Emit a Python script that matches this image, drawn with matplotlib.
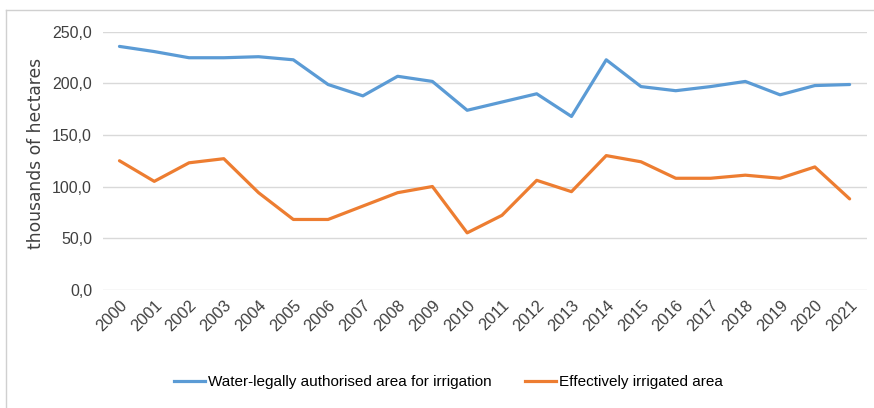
import matplotlib.pyplot as plt
from matplotlib.lines import Line2D

# data (thousands of hectares)
years = [str(y) for y in range(2000, 2022)]
authorised = [236, 231, 225, 225, 226, 223, 199, 188, 207, 202, 174, 182,
              190, 168, 223, 197, 193, 197, 202, 189, 198, 199]
irrigated = [125, 105, 123, 127, 94, 68, 68, 81, 94, 100, 55, 72,
             106, 95, 130, 124, 108, 108, 111, 108, 119, 88]
y_ticks = [0, 50, 100, 150, 200, 250]
y_labels = ["0,0", "50,0", "100,0", "150,0", "200,0", "250,0"]

blue = "#5B9BD5"
orange = "#ED7D31"
narrow = ["Liberation Sans Narrow", "Liberation Sans", "DejaVu Sans"]

fig = plt.figure(figsize=(8.74, 4.08), dpi=100)
ax = fig.add_axes([0.118, 0.2904, 0.874, 0.6312])

x = list(range(len(years)))
ax.plot(x, authorised, color=blue, lw=2.3, solid_capstyle="round")
ax.plot(x, irrigated, color=orange, lw=2.3, solid_capstyle="round")

ax.set_xlim(-0.47, 21.5)
ax.set_ylim(0, 250)
ax.set_yticks(y_ticks)
ax.set_yticklabels(y_labels, family=narrow, fontsize=11.5, color="#404040")
ax.set_xticks(x)
ax.set_xticklabels(years, family=narrow, fontsize=11.8, color="#404040",
                   rotation=45, ha="right", rotation_mode="anchor")
ax.tick_params(length=0, axis="y", pad=8)
ax.tick_params(length=0, axis="x", pad=6)
ax.grid(axis="y", color="#D9D9D9", lw=1)
ax.set_axisbelow(True)
for s in ax.spines.values():
    s.set_visible(False)
ax.set_ylabel("thousands of hectares", fontsize=12.3, color="#404040")
ax.yaxis.set_label_coords(-0.076, 0.53)

handles = [Line2D([], [], color=blue, lw=2.3),
           Line2D([], [], color=orange, lw=2.3)]
fig.legend(handles, ["Water-legally authorised area for irrigation",
                     "Effectively irrigated area"],
           loc="center", bbox_to_anchor=(0.513, 0.064), ncol=2, frameon=False,
           handlelength=2.0, handletextpad=0.2, columnspacing=2.2,
           prop={"family": narrow, "size": 11})

# thin outer frame (top and left edges visible in the reference)
fig.add_artist(Line2D([6 / 874, 6 / 874], [0, 1 - 10 / 408], color="#D0D0D0", lw=1))
fig.add_artist(Line2D([6 / 874, 1], [1 - 10 / 408, 1 - 10 / 408], color="#D0D0D0", lw=1))

fig.savefig("out.png", dpi=100)
